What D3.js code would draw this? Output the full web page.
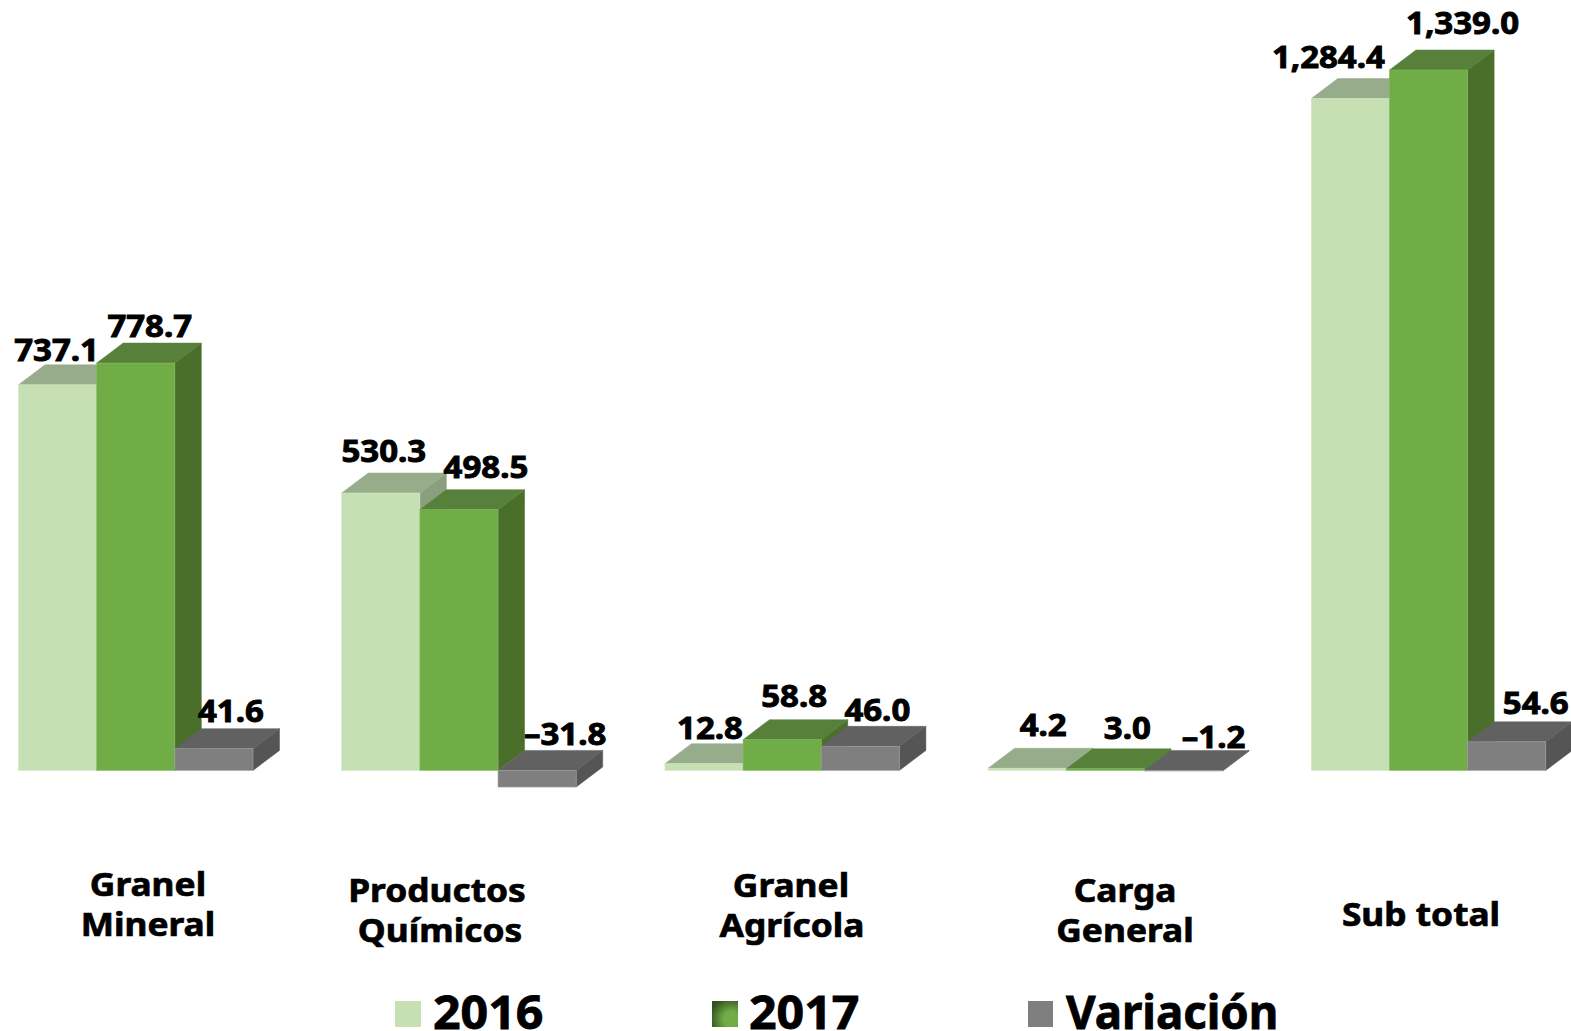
<!DOCTYPE html>
<html><head><meta charset="utf-8">
<script src="https://cdn.jsdelivr.net/npm/d3@7"></script>
<style>html,body{margin:0;padding:0;background:#fff;overflow:hidden}svg{display:block}
text{font-family:"Noto Sans",sans-serif;font-weight:700;fill:#000}</style></head><body>
<script>
const categories=["Granel Mineral","Productos Químicos","Granel Agrícola","Carga General","Sub total"];
const categoryLines=[["Granel","Mineral"],["Productos","Químicos"],["Granel","Agrícola"],["Carga","General"],["Sub total"]];
const seriesNames=["2016","2017","Variación"];
const values2016=[737.1,530.3,12.8,4.2,1284.4];
const values2017=[778.7,498.5,58.8,3.0,1339.0];
const valuesVar=[41.6,-31.8,46.0,-1.2,54.6];
const seriesValues=[values2016,values2017,valuesVar];
const labelTexts=[["737.1","530.3","12.8","4.2","1,284.4"],["778.7","498.5","58.8","3.0","1,339.0"],["41.6","–31.8","46.0","–1.2","54.6"]];
const frontColors=["#c6e0b4","#70ad47","#7f7f7f"];
const topColors=["#97ac8b","#57803a","#616161"];
const sideColors=["#8a9f7e","#4a6f2b","#555555"];
const edgeColors=["#d3e8c5","#85bd62","#a0a0a0"];
// label nudges relative to the top centre of each bar
const labelDx=[[-1,3,6,16,-22],[14,27,12,22,34],[17,28,17,30,29]];
const labelDy=[[-24,-32,-25,-33,-31.5],[-27,-32,-33,-30,-37],[-27,-26,-26,-23,-28]];
const catX=[148,437,791,1125,1421];
const catY=[896,902,897,902,926];
const catLineDx=[[0,0],[0,3],[0,1],[0,0],[0]];

const W=1571,H=1031,depthX=26.5,depthY=20;
const svg=d3.select("body").append("svg").attr("width",W).attr("height",H);
const defs=svg.append("defs");
const rg=defs.append("radialGradient").attr("id","g17").attr("cx","0.75").attr("cy","0.7").attr("r","0.85");
rg.append("stop").attr("offset","0.35").attr("stop-color","#70ad47");
rg.append("stop").attr("offset","1").attr("stop-color","#33501f");

const x0=d3.scaleBand().domain(categories).range([18.5,1545.8]).paddingInner(0.2744).paddingOuter(0);
const x1=d3.scaleBand().domain(seriesNames).range([0,x0.bandwidth()]);
const y=d3.scaleLinear().domain([0,1339]).range([770.4,70]);
const bw=x1.bandwidth();

categories.forEach((c,g)=>{
  seriesNames.forEach((s,k)=>{
    const v=seriesValues[k][g],l=x0(c)+x1(s),r=l+bw;
    const t=y(Math.max(v,0)),b=y(Math.min(v,0));
    const G=svg.append("g");
    const stroke=edgeColors[k];
    G.append("polygon").attr("points",[[r,t],[r+depthX,t-depthY],[r+depthX,b-depthY],[r,b]].join(" "))
      .attr("fill",sideColors[k]).attr("stroke",sideColors[k]).attr("stroke-width",.5);
    G.append("polygon").attr("points",[[l,t],[l+depthX,t-depthY],[r+depthX,t-depthY],[r,t]].join(" "))
      .attr("fill",topColors[k]).attr("stroke",topColors[k]).attr("stroke-width",.5);
    G.append("rect").attr("x",l).attr("y",t).attr("width",bw).attr("height",Math.max(b-t,0.5))
      .attr("fill",frontColors[k]).attr("stroke",stroke).attr("stroke-width",.6);
  });
});
categories.forEach((c,g)=>{
  seriesNames.forEach((s,k)=>{
    const v=seriesValues[k][g];
    svg.append("text").attr("transform",`translate(${x0(c)+x1(s)+bw/2+labelDx[k][g]},${y(Math.max(v,0))+labelDy[k][g]+0.5}) scale(1.1,1)`)
      .attr("text-anchor","middle").attr("font-size",30).attr("stroke","#000").attr("stroke-width",.9)
      .text(labelTexts[k][g]);
  });
  categoryLines[g].forEach((ln,i)=>{
    svg.append("text").attr("transform",`translate(${catX[g]+catLineDx[g][i]},${catY[g]+i*40}) scale(1.07,1)`)
      .attr("text-anchor","middle").attr("font-size",33).attr("stroke","#000").attr("stroke-width",.7).text(ln);
  });
});
const legX=[395,712,1028],legTextX=[433,749,1066],legScale=[1.05,1.05,0.99],legFill=["#c6e0b4","url(#g17)","#7f7f7f"];
seriesNames.forEach((s,k)=>{
  svg.append("rect").attr("x",legX[k]).attr("y",1001).attr("width",k==2?25:26).attr("height",26).attr("fill",legFill[k]);
  svg.append("text").attr("transform",`translate(${legTextX[k]},1029) scale(${legScale[k]},1)`)
    .attr("font-size",46).attr("stroke","#000").attr("stroke-width",.8).text(s);
});
</script></body></html>
